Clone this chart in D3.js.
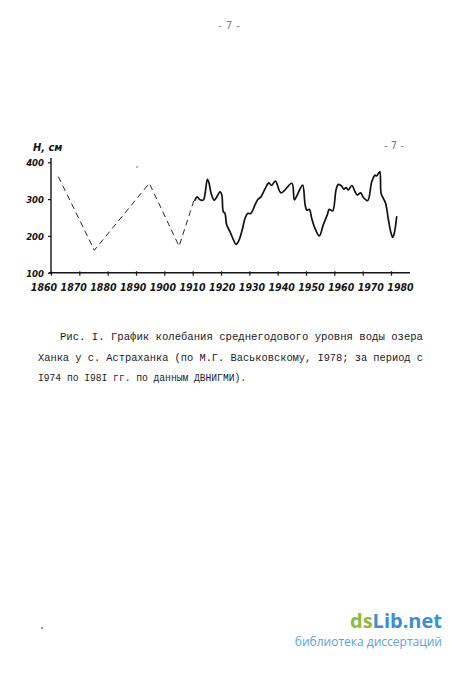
<!DOCTYPE html>
<html>
<head>
<meta charset="utf-8">
<script src="https://cdn.jsdelivr.net/npm/d3@7"></script>
<style>
  html, body { margin: 0; padding: 0; background: #fff; }
  svg { display: block; }
</style>
</head>
<body>
<div id="chart"></div>
<script>
// ---- data ----
const dashedYears  = [1862.6, 1875.3, 1894.7, 1905.2, 1910.6];
const dashedLevels = [361, 161, 343, 172, 300];

const solidYears = [1910.8, 1911.6, 1912.6, 1913.8, 1914.4, 1915.2, 1915.8, 1916.5, 1917.6, 1918.5,
  1919.7, 1920.3, 1920.8, 1921.4, 1922.0, 1923.2, 1924.4, 1925.3, 1926.1, 1927.3,
  1928.5, 1929.4, 1930.5, 1932.0, 1933.0, 1934.1, 1935.5, 1936.9, 1937.8, 1939.2,
  1941.2, 1945.0, 1945.9, 1946.9, 1948.8, 1949.7, 1950.3, 1951.2, 1952.0, 1953.2,
  1954.7, 1956.1, 1957.5, 1958.2, 1959.4, 1960.6, 1961.4, 1962.6, 1963.3, 1964.2,
  1964.9, 1966.2, 1967.3, 1968.1, 1969.3, 1970.2, 1971.8, 1973.2, 1974.4, 1974.9,
  1975.8, 1976.1, 1976.5, 1977.3, 1978.1, 1979.0, 1979.9, 1980.6, 1981.2, 1982.0];
const solidLevels = [297, 306, 298, 298, 316, 354, 343, 316, 297, 306,
  320, 311, 266, 261, 230, 211, 189, 177, 184, 211,
  248, 261, 261, 284, 299, 306, 327, 344, 337, 349,
  317, 343, 298, 311, 338, 284, 270, 272, 248, 220,
  200, 230, 257, 272, 268, 325, 340, 335, 327, 331,
  325, 337, 320, 311, 317, 305, 296, 347, 365, 363,
  372, 374, 316, 302, 289, 248, 211, 196, 209, 252];

const xTicks = [1860, 1870, 1880, 1890, 1900, 1910, 1920, 1930, 1940, 1950, 1960, 1970, 1980];
const yTicks = [100, 200, 300, 400];
const yAxisTitle = "H, см";
const pageNo = "- 7 -";
const captionLines = [
  "Рис. I. График колебания среднегодового уровня воды озера",
  "Ханка у с. Астраханка (по М.Г. Васьковскому, I978; за период с",
  "I974 по I98I гг. по данным ДВНИГМИ)."
];

// ---- drawing ----
const W = 450, H = 685;
const svg = d3.select("#chart").append("svg").attr("width", W).attr("height", H)
  .style("background", "#fff");

const x = d3.scaleLinear().domain([1860, 1980]).range([51, 391]);
const y = d3.scaleLinear().domain([100, 400]).range([272.7, 162.3]);
// tick labels in the original are spread slightly wider than the ticks
const xLabel = d3.scaleLinear().domain([1860, 1980]).range([43.5, 400]);

const tickFont = "'DejaVu Sans Condensed', 'DejaVu Sans', sans-serif";
const ink = "#151515";

// page number at top
svg.append("text").attr("x", 229).attr("y", 29).attr("text-anchor", "middle")
  .attr("font-family", "'DejaVu Sans', sans-serif").attr("font-size", 11)
  .attr("fill", "#8a8a8a").text(pageNo);

// page number inside the chart area
svg.append("text").attr("x", 394).attr("y", 149).attr("text-anchor", "middle")
  .attr("font-family", "'DejaVu Sans', sans-serif").attr("font-size", 10)
  .attr("fill", "#777").text(pageNo);

// stray dot
svg.append("circle").attr("cx", 137).attr("cy", 167).attr("r", 0.8).attr("fill", "#666");

// x axis
const gx = svg.append("g").attr("transform", `translate(0,${y(100)})`)
  .call(d3.axisBottom(x).tickValues(xTicks).tickSize(3).tickSizeOuter(0).tickFormat(d3.format("d")));
gx.select(".domain").attr("d", `M49,0H410`).attr("stroke", ink).attr("stroke-width", 1.4);
gx.selectAll(".tick line").attr("stroke", ink).attr("stroke-width", 1.2).attr("y1", -1.5);
gx.selectAll(".tick text")
  .attr("font-family", tickFont).attr("font-size", 10.5).attr("font-style", "italic")
  .attr("font-weight", d => (d === 1890 || d === 1940 || d === 1960) ? 900 : 700)
  .attr("fill", ink).attr("dy", null).attr("y", 18)
  .attr("dx", d => xLabel(d) - x(d));

// y axis
const gy = svg.append("g").attr("transform", `translate(${x(1860)},0)`)
  .call(d3.axisLeft(y).tickValues(yTicks).tickSize(3).tickSizeOuter(0).tickFormat(d3.format("d")));
gy.select(".domain").attr("d", `M0,${y(100)}V158`).attr("stroke", ink).attr("stroke-width", 1.4);
gy.selectAll(".tick line").attr("stroke", ink).attr("stroke-width", 1.2);
gy.selectAll(".tick text")
  .attr("font-family", tickFont).attr("font-size", 9.5).attr("font-style", "italic")
  .attr("font-weight", 700).attr("fill", ink).attr("x", -7).attr("dy", "0.35em");

// y-axis title
svg.append("text").attr("x", 33).attr("y", 151)
  .attr("font-family", tickFont).attr("font-size", 11).attr("font-style", "italic")
  .attr("font-weight", 700).attr("fill", ink).text(yAxisTitle);

// lines
const line = d3.line().x(d => x(d[0])).y(d => y(d[1]));
svg.append("path").datum(d3.zip(dashedYears, dashedLevels))
  .attr("d", line).attr("fill", "none").attr("stroke", "#2a2a2a")
  .attr("stroke-width", 1).attr("stroke-dasharray", "6,4");
svg.append("path").datum(d3.zip(solidYears, solidLevels))
  .attr("d", line.curve(d3.curveCatmullRom.alpha(0.5))).attr("fill", "none").attr("stroke", "#111")
  .attr("stroke-width", 1.7).attr("stroke-linejoin", "round").attr("stroke-linecap", "round");

// caption
const capPos = [[60, 423, 340], [38, 423, 361], [38, 246, 381]];
captionLines.forEach((t, i) => {
  svg.append("text").attr("x", capPos[i][0]).attr("y", capPos[i][2])
    .attr("font-family", "'Liberation Mono', 'DejaVu Sans Mono', monospace")
    .attr("font-size", 10.5).attr("fill", "#1a1a1a")
    .attr("textLength", capPos[i][1] - capPos[i][0]).attr("lengthAdjust", "spacingAndGlyphs")
    .text(t);
});

// small mark
svg.append("rect").attr("x", 41).attr("y", 627).attr("width", 2).attr("height", 2).attr("fill", "#999");

// watermark
const wm = svg.append("text").attr("x", 442).attr("y", 628).attr("text-anchor", "end")
  .attr("font-family", "'Open Sans', sans-serif").attr("font-weight", 700).attr("font-size", 20);
wm.append("tspan").attr("fill", "#8dbb3c").text("ds");
wm.append("tspan").attr("fill", "#3d8fcf").text("Lib.net");
svg.append("text").attr("x", 442).attr("y", 646).attr("text-anchor", "end")
  .attr("font-family", "'Open Sans', sans-serif").attr("font-size", 12)
  .attr("fill", "#5aa2dc").text("библиотека диссертаций");
</script>
</body>
</html>
